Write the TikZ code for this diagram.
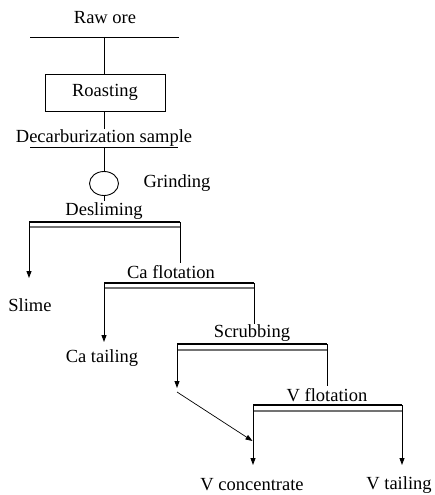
\documentclass[tikz,border=0pt]{standalone}
\usepackage{fontspec}
\setmainfont{Liberation Serif}
\usetikzlibrary{arrows.meta,shapes.geometric}
\begin{document}
\begin{tikzpicture}[x=1pt,y=-1pt,
  font=\fontsize{18.5}{21}\selectfont,
  ln/.style={line width=0.9pt},
  arr/.style={line width=0.9pt,-{Triangle[length=7pt,width=5pt]}},
  thickbar/.style={line width=2.3pt},
  subbar/.style={line width=1.1pt,black!55},
  lbl/.style={inner sep=0pt}]
\useasboundingbox (0,0) rectangle (434,495);

% Raw ore
\node[lbl] (raw) at (105,18) {Raw ore};
\coordinate (rawL) at (30,37);
\coordinate (rawR) at (179,37);
\coordinate (rawM) at (104,37);
\draw[ln] (rawL) -- (rawR);

% Roasting
\node[draw,ln,minimum width=120pt,minimum height=37pt,inner sep=0pt] (roast) at (105,92.5) {Roasting};
\draw[ln] (rawM) -- (rawM |- roast.north);

% Decarburization sample
\node[lbl] (decarb) at (104,138) {Decarburization sample};
\coordinate (dL) at (30,147);
\coordinate (dR) at (178,147);
\coordinate (dM) at (104,147);
\draw[ln] (roast.south -| dM) -- (decarb.north -| dM);
\draw[ln] (dL) -- (dR);

% Grinding
\node[draw,ln,ellipse,minimum width=29pt,minimum height=24pt,inner sep=0pt] (grind) at (104,183.5) {};
\node[lbl] (grindt) at (177,183) {Grinding};
\coordinate (gT) at (104,201);
\draw[ln] (dM) -- (grind.north);
\draw[ln] (grind.south) -- (gT);

% Desliming
\node[lbl] (desl) at (104,211) {Desliming};
\coordinate (deL) at (29,222);
\coordinate (deR) at (180,222);
\coordinate (deL2) at (29,227);
\coordinate (deR2) at (180,227);
\coordinate (slimeTip) at (29,278);
\coordinate (deRend) at (180,263);
\draw[subbar] (deL2) -- (deR2);
\draw[arr] (deL) -- (slimeTip);
\draw[ln] (deR) -- (deRend);
\draw[thickbar] (deL) -- (deR);
\node[lbl] (slime) at (30,305) {Slime};

% Ca flotation
\node[lbl] (caf) at (171,272) {Ca flotation};
\coordinate (caL) at (104,283);
\coordinate (caR) at (254,283);
\coordinate (caL2) at (104,288);
\coordinate (caR2) at (254,288);
\coordinate (caTip) at (104,342);
\coordinate (caRend) at (254,324);
\draw[subbar] (caL2) -- (caR2);
\draw[arr] (caL) -- (caTip);
\draw[ln] (caR) -- (caRend);
\draw[thickbar] (caL) -- (caR);
\node[lbl] (cat) at (102,358) {Ca tailing};

% Scrubbing
\node[lbl] (scr) at (252,333) {Scrubbing};
\coordinate (sL) at (177,344);
\coordinate (sR) at (327,344);
\coordinate (sL2) at (177,350);
\coordinate (sR2) at (327,350);
\coordinate (sTip) at (177,388);
\coordinate (sStart) at (177,392);
\coordinate (sRend) at (327,386);
\draw[subbar] (sL2) -- (sR2);
\draw[arr] (sL) -- (sTip);
\draw[ln] (sR) -- (sRend);
\draw[thickbar] (sL) -- (sR);

% V flotation
\node[lbl] (vf) at (327,395) {V flotation};
\coordinate (vL) at (253,405);
\coordinate (vR) at (402,405);
\coordinate (vL2) at (253,411);
\coordinate (vR2) at (402,411);
\coordinate (vLTip) at (253,465);
\coordinate (vRTip) at (402,465);
\coordinate (vJoin) at (252.5,441);
\draw[subbar] (vL2) -- (vR2);
\draw[arr] (vL) -- (vLTip);
\draw[arr] (vR) -- (vRTip);
\draw[thickbar] (vL) -- (vR);
\draw[line width=0.7pt,-{Triangle[length=7pt,width=5pt]}] (sStart) -- (vJoin);

\node[lbl] (vc) at (252,485) {V concentrate};
\node[lbl] (vt) at (399,485) {V tailing};
\end{tikzpicture}
\end{document}
